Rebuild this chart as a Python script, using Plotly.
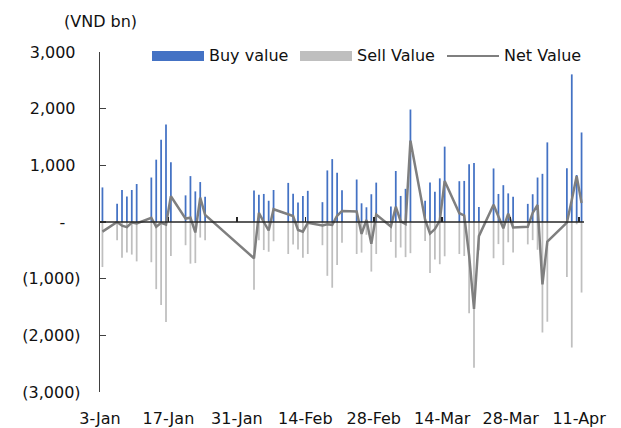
import pandas as pd
import plotly.graph_objects as go

# ---------------- data ----------------
trade_dates = [
    "2025-01-03", "2025-01-06", "2025-01-07", "2025-01-08", "2025-01-09", "2025-01-10",
    "2025-01-13", "2025-01-14", "2025-01-15", "2025-01-16", "2025-01-17",
    "2025-01-20", "2025-01-21", "2025-01-22", "2025-01-23", "2025-01-24",
    "2025-02-03", "2025-02-04", "2025-02-05", "2025-02-06", "2025-02-07",
    "2025-02-10", "2025-02-11", "2025-02-12", "2025-02-13", "2025-02-14",
    "2025-02-17", "2025-02-18", "2025-02-19", "2025-02-20", "2025-02-21",
    "2025-02-24", "2025-02-25", "2025-02-26", "2025-02-27", "2025-02-28",
    "2025-03-03", "2025-03-04", "2025-03-05", "2025-03-06", "2025-03-07",
    "2025-03-10", "2025-03-11", "2025-03-12", "2025-03-13", "2025-03-14",
    "2025-03-17", "2025-03-18", "2025-03-19", "2025-03-20", "2025-03-21",
    "2025-03-24", "2025-03-25", "2025-03-26", "2025-03-27", "2025-03-28",
    "2025-03-31", "2025-04-01", "2025-04-02", "2025-04-03", "2025-04-04",
    "2025-04-08", "2025-04-09", "2025-04-10", "2025-04-11",
]

buy_value = [
    610, 320, 565, 450, 565, 670,
    785, 1100, 1450, 1720, 1055,
    470, 810, 540, 705, 445,
    555, 480, 495, 375, 565,
    690, 500, 345, 460, 550,
    350, 910, 1110, 870, 560,
    750, 330, 260, 490, 695,
    275, 900, 460, 585, 1985,
    375, 695, 535, 770, 1330,
    720, 725, 1020, 1040, 265,
    945, 495, 650, 505, 445,
    320, 490, 785, 850, 1405,
    950, 2605, 830, 1580,
]

sell_value = [
    -795, -320, -630, -540, -575, -695,
    -710, -1185, -1465, -1765, -600,
    -410, -735, -725, -275, -320,
    -1195, -320, -495, -525, -340,
    -565, -395, -485, -630, -565,
    -410, -950, -1160, -760, -365,
    -565, -540, -225, -875, -565,
    -355, -630, -450, -620, -550,
    -335, -900, -660, -745, -605,
    -565, -600, -1610, -2570, -500,
    -640, -390, -760, -358, -540,
    -395, -320, -490, -1950, -1760,
    -970, -2215, -40, -1245,
]

net_value = [
    -170, 0, -65, -90, -10, -25,
    75, -85, -15, -45, 455,
    60, 75, -185, 430, 125,
    -640, 160, 0, -150, 225,
    125, 105, -140, -170, -15,
    -60, -40, -50, 110, 195,
    185, -210, 35, -385, 130,
    -80, 270, 10, -35, 1435,
    40, -205, -125, 25, 725,
    155, 115, -590, -1535, -250,
    305, 105, -110, 147, -95,
    -85, 160, 300, -1100, -345,
    -10, 390, 810, 335,
]

y_tick_values = [-3000, -2000, -1000, 0, 1000, 2000, 3000]
y_tick_labels = ["(3,000)", "(2,000)", "(1,000)", "-\u2007\u00a0",
                 "1,000\u00a0", "2,000\u00a0", "3,000\u00a0"]
series_names = ["Buy value", "Sell Value", "Net Value"]
unit_label = "(VND bn)"

# ---------------- figure ----------------
# the page body has an 8px margin, so the figure is drawn 8px in from the corner
OFF = 8
W, H = 621 - OFF, 428 - OFF
PL, PT, PR, PB = 100, 52, 584, 392          # plot area in page pixels
ML, MT = PL - OFF, PT - OFF
MR, MB = 621 - PR, 428 - PB
PW, PH = PR - PL, PB - PT
DAY_MS = 86400000
FONT = dict(family="DejaVu Sans, Verdana, sans-serif", size=16, color="#111111")

BLUE = "#4472C4"
GREY = "#BFBFBF"
NET = "#7F7F7F"

x = pd.to_datetime(trade_dates)

fig = go.Figure()
fig.add_trace(go.Bar(
    x=x, y=buy_value, name=series_names[0],
    xperiod=DAY_MS, xperiodalignment="middle",
    width=0.36 * DAY_MS, marker=dict(color=BLUE, line=dict(width=0)),
    showlegend=False, hoverinfo="skip",
))
fig.add_trace(go.Bar(
    x=x, y=sell_value, name=series_names[1],
    xperiod=DAY_MS, xperiodalignment="middle",
    width=0.36 * DAY_MS, marker=dict(color=GREY, line=dict(width=0)),
    showlegend=False, hoverinfo="skip",
))
fig.add_trace(go.Scatter(
    x=x, y=net_value, name=series_names[2], mode="lines",
    xperiod=DAY_MS, xperiodalignment="middle",
    line=dict(color=NET, width=2.5),
    xaxis="x2", showlegend=False, hoverinfo="skip",
))

x_range = ["2025-01-03", "2025-04-12"]
tick_common = dict(type="date", range=x_range, tickmode="linear",
                   tick0="2025-01-03", dtick=14 * DAY_MS, automargin=False)

fig.update_layout(
    width=W, height=H,
    margin=dict(l=ML, r=MR, t=MT, b=MB, pad=0, autoexpand=False),
    paper_bgcolor="white", plot_bgcolor="white",
    barmode="relative",
    font=FONT,
    showlegend=False,
    xaxis=dict(**tick_common, tickformat="%-d-%b", showgrid=False, zeroline=False,
               showline=False, ticks="", tickfont=FONT, ticklabelstandoff=15,
               fixedrange=True),
    xaxis2=dict(**tick_common, overlaying="x", anchor="free", position=0.5,
                showticklabels=False, showgrid=False, zeroline=False,
                showline=False,
                ticks="inside", ticklen=5, tickwidth=1.5, tickcolor="#262626",
                fixedrange=True),
    yaxis=dict(range=[-3000, 3000], tickmode="array", tickvals=y_tick_values,
               ticktext=y_tick_labels, showgrid=False, zeroline=False,
               showline=True, linecolor="#404040", linewidth=1.2,
               ticks="inside", ticklen=6, tickwidth=1.2, tickcolor="#404040",
               tickfont=FONT, ticklabelstandoff=15, fixedrange=True,
               automargin=False),
)

# horizontal axis line through zero, drawn above the bars
fig.add_shape(type="line", xref="paper", yref="y", x0=0, x1=1, y0=0, y1=0,
              line=dict(color="#262626", width=1.5), layer="above")


def px_x(p):
    return (p - PL) / PW


def px_y(p):
    return (PB - p) / PH


# unit label
fig.add_annotation(text=unit_label, xref="paper", yref="paper",
                   x=px_x(62), y=px_y(21), xanchor="left", yanchor="middle",
                   showarrow=False, font=FONT)

# legend (drawn manually to match the wide swatches)
legend_y = 56
fig.add_shape(type="rect", xref="paper", yref="paper",
              x0=px_x(152), x1=px_x(204), y0=px_y(61), y1=px_y(51),
              fillcolor=BLUE, line=dict(width=0))
fig.add_shape(type="rect", xref="paper", yref="paper",
              x0=px_x(300), x1=px_x(352), y0=px_y(61), y1=px_y(51),
              fillcolor=GREY, line=dict(width=0))
fig.add_shape(type="line", xref="paper", yref="paper",
              x0=px_x(447), x1=px_x(499), y0=px_y(legend_y), y1=px_y(legend_y),
              line=dict(color=NET, width=2))
for name, left in zip(series_names, [207, 355, 502]):
    fig.add_annotation(text=name, xref="paper", yref="paper",
                       x=px_x(left), y=px_y(legend_y), xanchor="left",
                       yanchor="middle", showarrow=False, font=FONT)

fig.write_html("out.html", config={"displayModeBar": False, "staticPlot": True})
